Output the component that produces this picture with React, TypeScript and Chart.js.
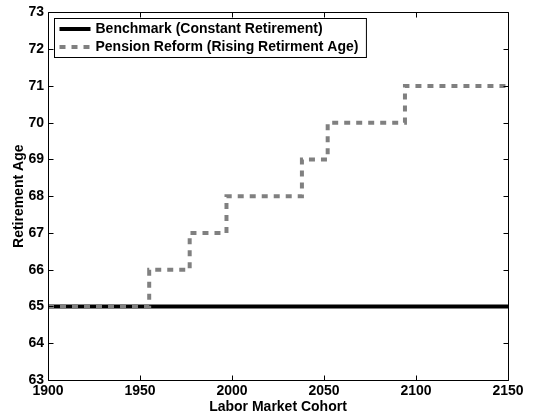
import React, { useEffect, useRef } from "react";
import { Chart, registerables } from "chart.js";

Chart.register(...registerables);

const benchmarkLabel = "Benchmark (Constant Retirement)";
const reformLabel = "Pension Reform (Rising Retirment Age)";
const benchmarkYears = [1900, 2150];
const benchmarkAges = [65, 65];
const reformYears = [1900, 1955, 1977, 1997, 2038, 2052, 2094, 2150];
const reformAges = [65, 66, 67, 68, 69, 70, 71, 71];
const xTitle = "Labor Market Cohort";
const yTitle = "Retirement Age";
const xMin = 1900, xMax = 2150, xStep = 50;
const yMin = 63, yMax = 73, yStep = 1;

const FONT = "'Liberation Sans', Arial, Helvetica, sans-serif";

const boxPlugin = {
  id: "boxAndLegend",
  afterDraw(chart: any) {
    const { ctx, chartArea: a, scales } = chart;
    ctx.save();
    ctx.strokeStyle = "#000";
    ctx.lineWidth = 1;
    ctx.setLineDash([]);
    ctx.beginPath();
    const L = Math.round(a.left) + 0.5, R = Math.round(a.right) + 0.5;
    const T = Math.round(a.top) + 0.5, B = Math.round(a.bottom) + 0.5;
    ctx.rect(L, T, R - L, B - T);
    const tl = 5;
    scales.x.ticks.forEach((t: any) => {
      const px = Math.round(scales.x.getPixelForValue(t.value)) + 0.5;
      ctx.moveTo(px, B); ctx.lineTo(px, B - tl);
      ctx.moveTo(px, T); ctx.lineTo(px, T + tl);
    });
    scales.y.ticks.forEach((t: any) => {
      const py = Math.round(scales.y.getPixelForValue(t.value)) + 0.5;
      ctx.moveTo(L, py); ctx.lineTo(L + tl, py);
      ctx.moveTo(R, py); ctx.lineTo(R - tl, py);
    });
    ctx.stroke();

    // legend
    ctx.font = `bold 14px ${FONT}`;
    const ds = chart.data.datasets;
    let maxW = 0;
    ds.forEach((d: any) => { maxW = Math.max(maxW, ctx.measureText(d.label).width); });
    const bx = L + 6, by = T + 6;
    const sampleX0 = bx + 5, sampleX1 = bx + 36, textX = bx + 41;
    const bw = textX - bx + maxW + 8;
    const rowH = 18;
    const bh = rowH * ds.length + 3;
    ctx.fillStyle = "#fff";
    ctx.fillRect(bx, by, bw, bh);
    ctx.strokeStyle = "#000";
    ctx.lineWidth = 1;
    ctx.strokeRect(bx, by, bw, bh);
    ds.forEach((d: any, i: number) => {
      const cy = by + 10.5 + i * rowH;
      ctx.save();
      ctx.strokeStyle = d.borderColor;
      ctx.lineWidth = d.borderWidth;
      ctx.setLineDash(d.borderDash || []);
      ctx.lineCap = "butt";
      ctx.beginPath();
      ctx.moveTo(sampleX0, cy);
      ctx.lineTo(sampleX1, cy);
      ctx.stroke();
      ctx.restore();
      ctx.fillStyle = "#000";
      ctx.textBaseline = "middle";
      ctx.textAlign = "left";
      ctx.fillText(d.label, textX, cy + 0.5);
    });
    ctx.restore();
  },
};

export default function App() {
  const ref = useRef<HTMLCanvasElement>(null);
  useEffect(() => {
    if (!ref.current) return;
    Chart.defaults.font.family = FONT;
    Chart.defaults.font.weight = "bold";
    Chart.defaults.font.size = 14;
    Chart.defaults.color = "#000";
    const chart = new Chart(ref.current, {
      type: "line",
      data: {
        datasets: [
          {
            label: benchmarkLabel,
            data: benchmarkYears.map((x, i) => ({ x, y: benchmarkAges[i] })),
            borderColor: "#000",
            borderWidth: 4,
            pointRadius: 0,
            fill: false,
            order: 1,
          },
          {
            label: reformLabel,
            data: reformYears.map((x, i) => ({ x, y: reformAges[i] })),
            borderColor: "#808080",
            borderWidth: 4,
            borderDash: [6, 6],
            stepped: "before",
            pointRadius: 0,
            fill: false,
            order: 0,
          },
        ],
      },
      options: {
        animation: false,
        responsive: false,
        devicePixelRatio: 1,
        layout: { padding: { top: 8.5, right: 28, left: 0, bottom: 0 } },
        plugins: { legend: { display: false }, tooltip: { enabled: false } },
        scales: {
          x: {
            type: "linear",
            min: xMin,
            max: xMax,
            grid: { display: false, drawTicks: false },
            border: { display: false },
            ticks: { stepSize: xStep, padding: 3, color: "#000", maxRotation: 0, autoSkip: false, callback: (v: any) => String(v) },
            title: { display: true, text: xTitle, color: "#000", padding: { top: 0, bottom: 4 }, font: { size: 14, weight: "bold" } },
            afterFit: (s: any) => { s.height = 40; },
          },
          y: {
            min: yMin,
            max: yMax,
            grid: { display: false, drawTicks: false },
            border: { display: false },
            ticks: { stepSize: yStep, padding: 4, color: "#000", autoSkip: false },
            title: { display: true, text: yTitle, color: "#000", padding: { top: 11, bottom: 0 }, font: { size: 14, weight: "bold" } },
            afterFit: (s: any) => { s.width = 48; },
          },
        },
      },
      plugins: [boxPlugin],
    } as any);
    return () => chart.destroy();
  }, []);
  return (
    <div style={{ position: "fixed", left: 0, top: 0, width: 536, height: 420, background: "#fff" }}>
      <canvas ref={ref} width={536} height={420} style={{ display: "block" }} />
    </div>
  );
}
